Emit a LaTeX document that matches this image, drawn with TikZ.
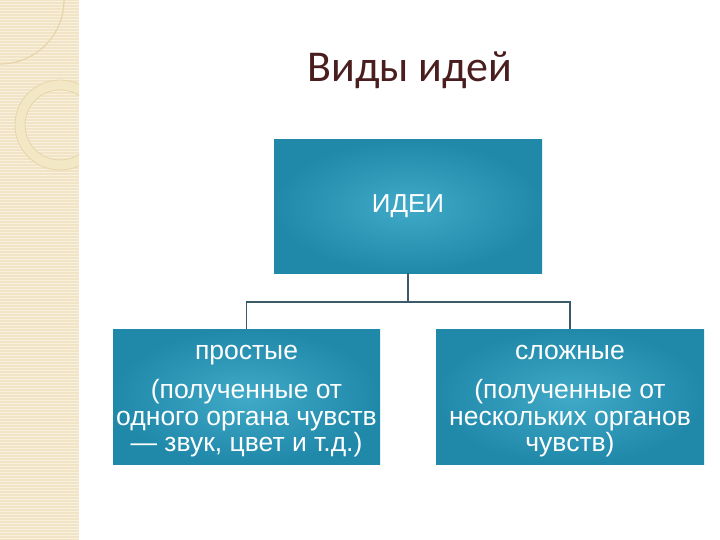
\documentclass[tikz,border=0pt]{standalone}
\usepackage{fontspec}
\setmainfont{Liberation Sans}
\newfontfamily\titlefont{Carlito}
\usepackage{tikz}
\usetikzlibrary{positioning}

\definecolor{boxin}{HTML}{40AAC8}
\definecolor{boxout}{HTML}{2088A9}
\definecolor{linkcol}{HTML}{3B5A68}
\definecolor{stripbg}{HTML}{F1E4C6}
\definecolor{stripline}{HTML}{F9F1DE}
\definecolor{ringcol}{HTML}{E6D5A8}
\definecolor{ringfill}{HTML}{F3E8C6}
\definecolor{titlecol}{HTML}{4A1E1E}

\tikzset{
    ideabox/.style={rectangle, inner color=boxin, outer color=boxout, text=white,
        align=center, inner sep=0pt, minimum width=267pt, minimum height=135pt,
        font=\fontsize{26.5}{26.5}\selectfont},
    link/.style={draw=linkcol, line width=1.5pt},
}

\begin{document}
\begin{tikzpicture}
    \useasboundingbox (0,0) rectangle (720pt,-540pt);

    % left strip
    \fill[stripbg] (0,0) rectangle (79pt,-540pt);
    \foreach \y in {1,4,...,539}
        \draw[stripline, line width=0.9pt] (0pt,-\y pt) -- (79pt,-\y pt);
    \begin{scope}
        \clip (0,0) rectangle (79pt,-540pt);
        \fill[ringfill, even odd rule] (60pt,-125pt) circle (45pt) (60pt,-125pt) circle (35pt);
        \draw[ringcol, line width=0.8pt] (60pt,-125pt) circle (45pt) (60pt,-125pt) circle (35pt);
        \draw[ringcol, line width=1.2pt] (0pt,0pt) circle (64pt);
    \end{scope}

    \node (title) at (410pt,-70pt) [text=titlecol, font=\titlefont\fontsize{44}{44}\selectfont] {Виды идей};

    \node (ideas) at (408pt,-206.5pt) [ideabox, minimum width=268pt, minimum height=133pt, font=\fontsize{26}{30}\selectfont] {ИДЕИ};

    \node (simple) at (246.5pt,-396.5pt) [ideabox] {\rule{0pt}{23pt}простые\\[13pt](полученные от\\одного органа чувств\\— звук, цвет и т.д.)};
    \node (complex) at (570pt,-396.5pt) [ideabox, minimum width=268pt] {\rule{0pt}{23pt}сложные\\[13pt](полученные от\\нескольких органов\\чувств)};

    \draw[link] (ideas.south) -- ++(0,-29pt) coordinate (fork) -| (simple.north);
    \draw[link] (fork) -| (complex.north);

\end{tikzpicture}
\end{document}
